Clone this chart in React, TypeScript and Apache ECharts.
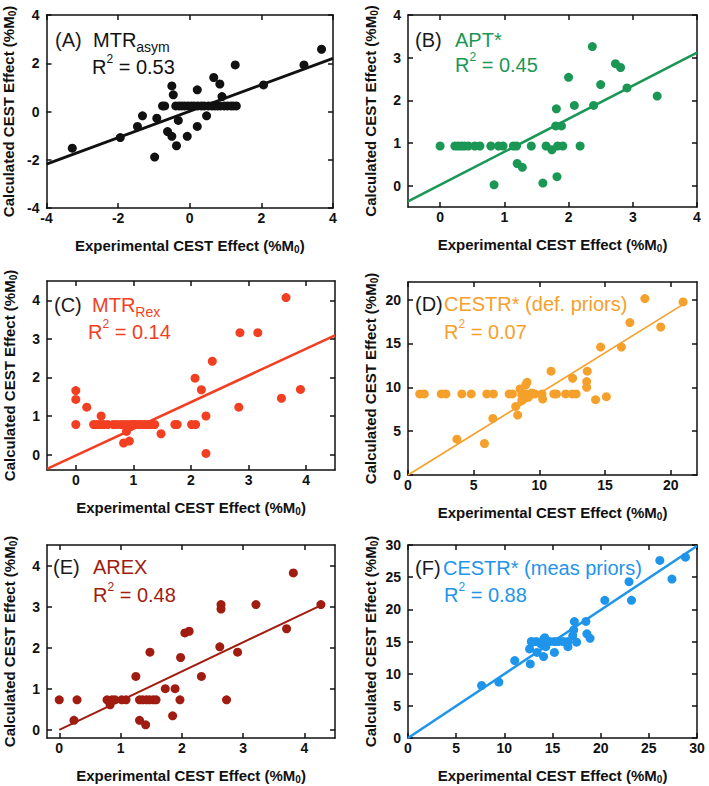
import React, { useEffect, useRef } from "react";
import * as echarts from "echarts";

// ---------- DATA ----------
const panelLetters = ["(A)", "(B)", "(C)", "(D)", "(E)", "(F)"];
const r2Values = ["0.53", "0.45", "0.14", "0.07", "0.48", "0.88"];
const colors = ["#111111", "#1b9755", "#f23f22", "#f6a02c", "#a01c10", "#1e95ea"];

const xRanges = [[-4, 4], [-0.5, 4], [-0.5, 4.5], [0, 22], [-0.2, 4.5], [0, 30]];
const yRanges = [[-4, 4], [-0.5, 4], [-0.4, 4.5], [0, 22], [-0.2, 4.5], [0, 30]];
const xTicks = [[-4, -2, 0, 2, 4], [0, 1, 2, 3, 4], [0, 1, 2, 3, 4], [0, 5, 10, 15, 20], [0, 1, 2, 3, 4], [0, 5, 10, 15, 20, 25, 30]];
const yTicks = [[-4, -2, 0, 2, 4], [0, 1, 2, 3, 4], [0, 1, 2, 3, 4], [0, 5, 10, 15, 20], [0, 1, 2, 3, 4], [0, 5, 10, 15, 20, 25, 30]];

const dataA = [
  [-3.28, -1.52], [-1.94, -1.08], [-1.46, -0.62], [-1.32, -0.18], [-0.92, -0.28], [-0.98, -1.89],
  [-0.76, 0.23], [-0.7, 0.23], [-0.62, -0.83], [-0.5, -1.03], [-0.5, 1.06], [-0.46, 0.69],
  [-0.37, -1.42], [-0.32, -0.37], [-0.07, -1.03], [0.21, 0.9], [0.21, -0.62], [0.47, -0.18],
  [0.67, 1.41], [0.84, 1.14], [0.9, 0.62], [1.27, 1.93], [2.06, 1.1], [3.19, 1.93], [3.68, 2.58],
  [-0.39, 0.23], [-0.3, 0.23], [-0.22, 0.23], [-0.14, 0.23], [-0.05, 0.23], [0.04, 0.23],
  [0.12, 0.23], [0.22, 0.23], [0.32, 0.23], [0.4, 0.23], [0.52, 0.23], [0.62, 0.23],
  [0.7, 0.23], [0.78, 0.23], [0.86, 0.23], [0.96, 0.23], [1.05, 0.23], [1.15, 0.23],
  [1.22, 0.23], [1.3, 0.23],
];
const dataB = [
  [0.0, 0.93], [0.23, 0.93], [0.28, 0.93], [0.33, 0.93], [0.38, 0.93], [0.44, 0.93], [0.54, 0.93],
  [0.62, 0.93], [0.79, 0.93], [0.91, 0.93], [0.98, 0.93], [1.14, 0.93], [1.19, 0.93], [1.42, 0.93],
  [1.65, 0.93], [1.83, 0.93], [1.91, 0.93], [2.18, 0.93],
  [0.84, 0.02], [1.2, 0.52], [1.28, 0.43], [1.6, 0.06], [1.74, 0.84], [1.82, 0.21], [1.81, 1.8],
  [1.8, 1.4], [1.89, 1.4], [2.0, 2.54], [2.09, 1.88], [2.37, 3.26], [2.39, 1.88], [2.5, 2.37],
  [2.73, 2.86], [2.81, 2.77], [2.91, 2.29], [3.38, 2.1],
];
const dataC = [
  [0, 0.78], [0.31, 0.78], [0.36, 0.78], [0.42, 0.78], [0.48, 0.78], [0.55, 0.78], [0.65, 0.78],
  [0.71, 0.78], [0.78, 0.78], [0.84, 0.78], [0.9, 0.78], [0.96, 0.78], [1.0, 0.78], [1.04, 0.78],
  [1.09, 0.78], [1.14, 0.78], [1.2, 0.78], [1.26, 0.78], [1.31, 0.78], [1.37, 0.78], [1.72, 0.78],
  [1.76, 0.78], [2.01, 0.78], [2.08, 0.78],
  [0, 1.66], [0, 1.43], [0.19, 1.23], [0.44, 1.0], [0.83, 0.3], [0.88, 0.6], [0.93, 0.35],
  [1.48, 0.54], [2.07, 1.98], [2.18, 1.68], [2.26, 1.0], [2.26, 0.03], [2.37, 2.42], [2.83, 1.23],
  [2.85, 3.16], [3.16, 3.16], [3.57, 1.46], [3.65, 4.07], [3.9, 1.69],
];
const dataD = [
  [0.89, 9.24], [1.24, 9.24], [2.53, 9.24], [2.89, 9.24], [4.1, 9.24], [4.81, 9.24], [6.0, 9.24],
  [6.5, 9.24], [7.7, 9.24], [7.95, 9.24], [8.8, 9.24], [9.0, 9.24], [9.4, 9.24], [10.2, 9.24],
  [11.1, 9.24], [11.3, 9.24], [12.0, 9.24], [12.5, 9.24], [12.8, 9.24],
  [3.72, 4.08], [5.82, 3.59], [6.46, 6.45], [8.35, 6.83], [8.2, 7.82], [8.53, 9.81], [8.66, 9.16],
  [8.66, 8.47], [8.96, 10.27], [9.06, 10.57], [9.16, 8.85], [9.42, 9.35], [9.67, 9.24],
  [10.25, 8.66], [10.89, 11.83], [12.53, 11.03], [13.6, 10.65], [13.6, 10.0], [13.65, 11.83],
  [14.28, 8.59], [14.66, 14.58], [15.1, 8.93], [16.25, 14.58], [16.89, 17.37], [18.03, 20.11],
  [19.24, 16.87], [20.94, 19.73],
];
const dataE = [
  [0, 0.73], [0.29, 0.73], [0.78, 0.73], [0.86, 0.73], [0.91, 0.73], [1.02, 0.73], [1.09, 0.73],
  [1.31, 0.73], [1.36, 0.73], [1.42, 0.73], [1.47, 0.73], [1.53, 0.73], [1.58, 0.73], [1.97, 0.73],
  [2.73, 0.73],
  [0.24, 0.23], [0.83, 0.61], [1.25, 1.3], [1.31, 0.23], [1.41, 0.12], [1.48, 1.89], [1.73, 1.0],
  [1.89, 1.0], [1.85, 0.34], [1.98, 1.76], [2.05, 2.36], [2.12, 2.4], [2.32, 1.3], [2.62, 2.02],
  [2.64, 3.05], [2.64, 2.94], [2.91, 1.89], [3.21, 3.05], [3.71, 2.46], [3.82, 3.82], [4.27, 3.05],
];
const dataF = [
  [7.64, 8.16], [9.43, 8.67], [11.08, 12.03], [12.69, 11.51], [12.62, 13.84], [12.87, 14.87],
  [12.8, 15.0], [13.3, 15.0], [13.8, 14.6], [14.0, 15.0], [14.3, 14.2], [14.7, 15.0], [15.2, 15.0],
  [15.6, 15.0], [16.1, 15.0], [16.6, 15.0], [13.4, 13.3], [14.1, 15.4], [14.2, 15.6], [14.07, 12.65],
  [15.2, 13.3], [16.6, 14.2], [17.1, 15.9], [17.2, 16.8], [17.27, 18.1], [17.5, 14.9],
  [18.47, 18.12], [18.57, 16.2], [18.9, 15.5], [20.43, 21.4], [22.94, 24.3], [23.2, 21.4],
  [26.14, 27.6], [27.4, 24.7], [28.8, 28.1],
];
const fitA = [[-4, -2.18], [4, 2.2]];
const fitB = [[-0.5, -0.37], [4, 3.12]];
const fitC = [[-0.5, -0.37], [4.5, 3.09]];
const fitD = [[0, 0], [21, 19.5]];
const fitE = [[0, 0], [4.27, 3.03]];
const fitF = [[0, 0], [30, 29.85]];

const scatterData = [dataA, dataB, dataC, dataD, dataE, dataF];
const fitData = [fitA, fitB, fitC, fitD, fitE, fitF];
const fitWidths = [2.8, 2.6, 2.6, 1.6, 2, 2.6];

// method label rich strings
const methodLabels = [
  "{n|MTR}{s|asym}",
  "{n|APT*}",
  "{n|MTR}{s|Rex}",
  "{n|CESTR* (def. priors)}",
  "{n|AREX}",
  "{n|CESTR* (meas priors)}",
];

// ---------- LAYOUT ----------
const grids = [
  { left: 45, top: 15, width: 288, height: 193 },
  { left: 408, top: 15, width: 289, height: 192 },
  { left: 47, top: 281, width: 288, height: 189 },
  { left: 408, top: 282, width: 289, height: 193 },
  { left: 47, top: 545, width: 288, height: 193 },
  { left: 408, top: 545, width: 289, height: 193 },
];
const letterPos = [[55, 40], [415, 40], [54, 305], [415, 304], [53, 567], [415, 568]];
const methodPos = [[93, 40], [455, 40], [92, 305], [444, 304], [93, 567], [443, 568]];
const r2Pos = [[92, 67], [455, 65], [88, 332], [444, 332], [93, 595], [444, 595]];

const FONT = "'Liberation Sans', Arial, Helvetica, sans-serif";

export default function App() {
  const ref = useRef<HTMLDivElement>(null);
  useEffect(() => {
    document.body.style.margin = "0";
    if (!ref.current) return;
    const chart = echarts.init(ref.current, undefined, { renderer: "svg" });

    const xAxes: any[] = [];
    const yAxes: any[] = [];
    const series: any[] = [];
    const titles: any[] = [];

    const lineStyle = { color: "#111", width: 1.5 };
    const tickStyle = { color: "#111", width: 1.5 };
    const xName = "{b|Experimental CEST Effect (%M}{s|0}{b|)}";
    const yName = "{b|Calculated CEST Effect (%M}{s|0}{b|)}";
    const nameRich = {
      b: { fontFamily: FONT, fontWeight: "bold", fontSize: 15, color: "#111", lineHeight: 18 },
      s: { fontFamily: FONT, fontWeight: "bold", fontSize: 10, color: "#111", lineHeight: 10, verticalAlign: "bottom" },
    };

    for (let i = 0; i < 6; i++) {
      const [xmin, xmax] = xRanges[i];
      const [ymin, ymax] = yRanges[i];
      xAxes.push({
        gridIndex: i, type: "value", position: "bottom", min: xmin, max: xmax,
        axisLine: { show: true, onZero: false, lineStyle },
        axisTick: { show: true, inside: true, length: 5, lineStyle: tickStyle, customValues: xTicks[i] },
        axisLabel: { show: true, customValues: xTicks[i], margin: 3, fontFamily: FONT, fontWeight: "bold", fontSize: 14, color: "#111" },
        splitLine: { show: false },
        name: xName, nameLocation: "middle", nameGap: 28,
        nameTextStyle: { rich: nameRich },
      });
      xAxes.push({
        gridIndex: i, type: "value", position: "top", min: xmin, max: xmax,
        axisLine: { show: true, onZero: false, lineStyle },
        axisTick: { show: true, inside: true, length: 5, lineStyle: tickStyle, customValues: xTicks[i] },
        axisLabel: { show: false },
        splitLine: { show: false },
      });
      yAxes.push({
        gridIndex: i, type: "value", position: "left", min: ymin, max: ymax,
        axisLine: { show: true, onZero: false, lineStyle },
        axisTick: { show: true, inside: true, length: 5, lineStyle: tickStyle, customValues: yTicks[i] },
        axisLabel: { show: true, customValues: yTicks[i], margin: 7, fontFamily: FONT, fontWeight: "bold", fontSize: 14, color: "#111" },
        splitLine: { show: false },
        name: yName, nameLocation: "middle", nameGap: 29, nameRotate: 90,
        nameTextStyle: { rich: nameRich },
      });
      yAxes.push({
        gridIndex: i, type: "value", position: "right", min: ymin, max: ymax,
        axisLine: { show: true, onZero: false, lineStyle },
        axisTick: { show: true, inside: true, length: 5, lineStyle: tickStyle, customValues: yTicks[i] },
        axisLabel: { show: false },
        splitLine: { show: false },
      });

      series.push({
        type: "scatter", xAxisIndex: 2 * i, yAxisIndex: 2 * i, data: scatterData[i],
        symbol: "circle", symbolSize: 9, itemStyle: { color: colors[i], opacity: 1 },
        z: 2,
      });
      series.push({
        type: "line", xAxisIndex: 2 * i, yAxisIndex: 2 * i, data: fitData[i],
        showSymbol: false, symbol: "none", clip: true,
        lineStyle: { color: colors[i], width: fitWidths[i] }, z: 3,
      });

      const rich = {
        n: { fontFamily: FONT, fontWeight: "normal", fontSize: 20, color: colors[i], lineHeight: 28 },
        s: { fontFamily: FONT, fontWeight: "normal", fontSize: 14, color: colors[i], lineHeight: 16, verticalAlign: "bottom" },
        p: { fontFamily: FONT, fontWeight: "normal", fontSize: 12, color: colors[i], lineHeight: 19, verticalAlign: "top" },
        k: { fontFamily: FONT, fontWeight: "normal", fontSize: 20, color: "#1a1a1a", lineHeight: 28 },
      };
      const ts = { fontWeight: "normal", fontFamily: FONT, rich };
      titles.push({
        text: "{k|" + panelLetters[i] + "}", left: letterPos[i][0], top: letterPos[i][1] - 14,
        padding: 0, textStyle: ts,
      });
      titles.push({
        text: methodLabels[i], left: methodPos[i][0], top: methodPos[i][1] - 14,
        padding: 0, textStyle: ts,
      });
      titles.push({
        text: "{n|R}{p|2}{n| = " + r2Values[i] + "}", left: r2Pos[i][0], top: r2Pos[i][1] - 14,
        padding: 0, textStyle: ts,
      });
    }

    chart.setOption({
      animation: false,
      backgroundColor: "#ffffff",
      title: titles,
      grid: grids.map((g) => ({ ...g, containLabel: false })),
      xAxis: xAxes,
      yAxis: yAxes,
      series,
    });
    return () => chart.dispose();
  }, []);
  return <div ref={ref} style={{ width: 709, height: 786 }} />;
}
